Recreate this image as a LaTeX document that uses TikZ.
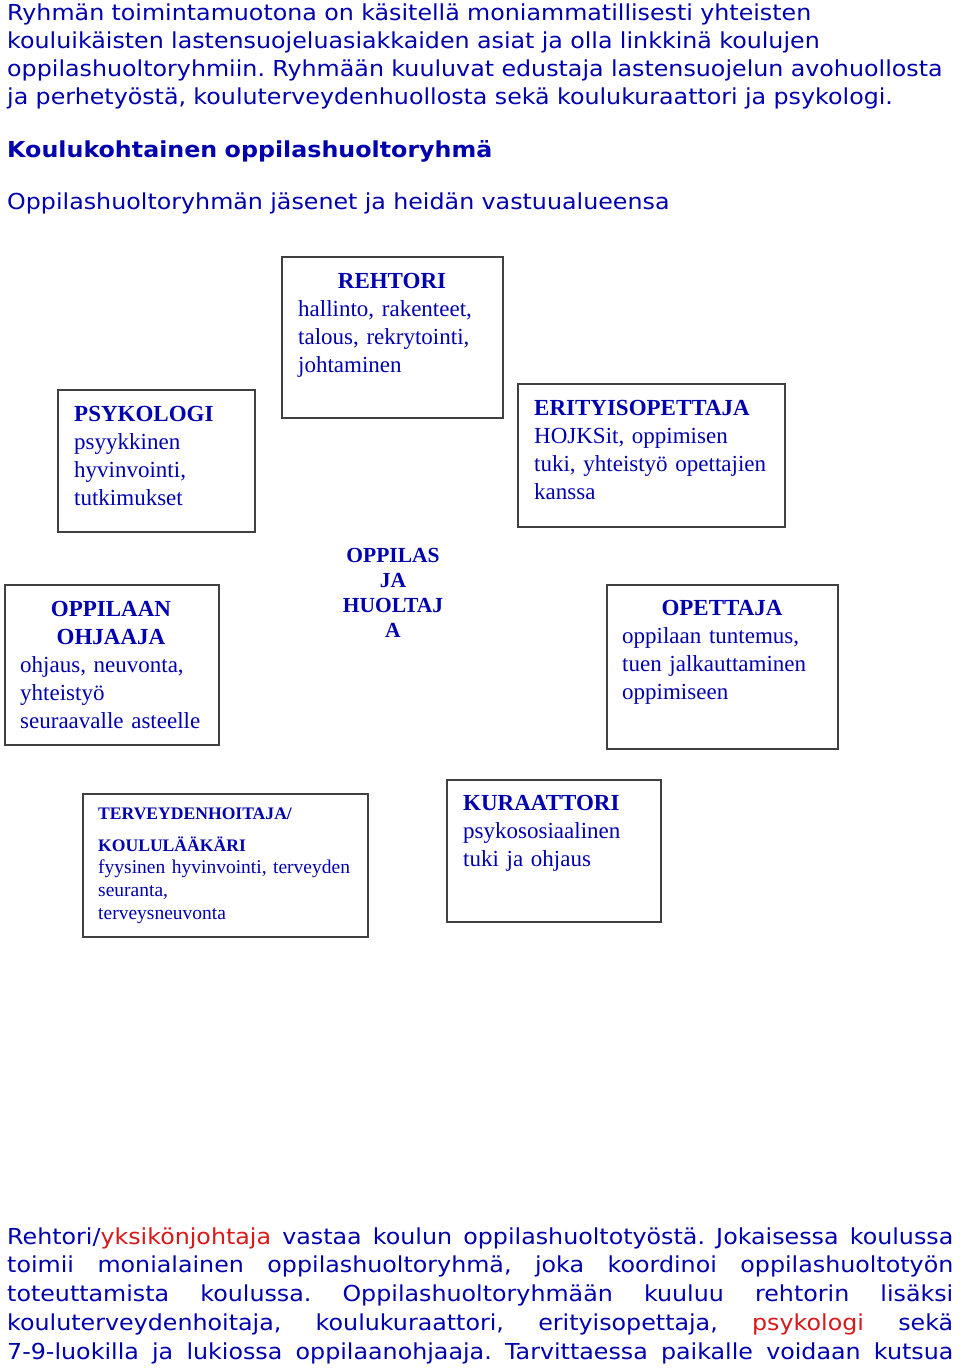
\documentclass[tikz,border=0pt]{standalone}
\usepackage{fontspec}
\setmainfont{Liberation Serif}
\newfontfamily\verd[FakeStretch=1.08]{DejaVu Sans}
\definecolor{tblue}{RGB}{0,0,175}
\definecolor{tred}{RGB}{215,25,25}
\frenchspacing
\tikzset{
  box/.style={draw=black!75, line width=1.1pt, inner sep=0pt},
  ttl/.style={anchor=base, inner sep=0pt, text=tblue, font=\bfseries\fontsize{23}{28}\selectfont},
  ttlw/.style={anchor=base west, inner sep=0pt, text=tblue, font=\bfseries\fontsize{23}{28}\selectfont},
  body/.style={anchor=base west, inner sep=0pt, text=tblue, text width=300pt, align=left, font=\fontsize{23}{28}\selectfont},
  vtxt/.style={anchor=base west, inner sep=0pt, text=tblue, text width=950pt, align=left, font=\verd\fontsize{22}{28.2}\selectfont\frenchspacing},
}
\begin{document}
\begin{tikzpicture}[x=1pt,y=-1pt]
\useasboundingbox[fill=white] (0,0) rectangle (960,1368);

% top text
\node[vtxt] (intro) at (7,20) {Ryhmän toimintamuotona on käsitellä moniammatillisesti yhteisten\\kouluikäisten lastensuojeluasiakkaiden asiat ja olla linkkinä koulujen\\oppilashuoltoryhmiin. Ryhmään kuuluvat edustaja lastensuojelun avohuollosta\\ja perhetyöstä, kouluterveydenhuollosta sekä koulukuraattori ja psykologi.};
\node[vtxt, font=\verd\bfseries\fontsize{22}{28}\selectfont] (head) at (7,157) {Koulukohtainen oppilashuoltoryhmä};
\node[vtxt] (sub) at (7,209) {Oppilashuoltoryhmän jäsenet ja heidän vastuualueensa};

% REHTORI
\draw[box] (282,257) rectangle (503,418);
\node[ttl] (rehtoriT) at (392,288) {REHTORI};
\node[body] (rehtoriB) at (298,316) {hallinto, rakenteet,\\talous, rekrytointi,\\johtaminen};

% PSYKOLOGI
\draw[box] (58,390) rectangle (255,532);
\node[ttlw] (psykT) at (74,421) {PSYKOLOGI};
\node[body] (psykB) at (74,449) {psyykkinen\\hyvinvointi,\\tutkimukset};

% ERITYISOPETTAJA
\draw[box] (518,384) rectangle (785,527);
\node[ttlw] (erityT) at (534,415) {ERITYISOPETTAJA};
\node[body] (erityB) at (534,443) {HOJKSit, oppimisen\\tuki, yhteistyö opettajien\\kanssa};

% OPPILAS JA HUOLTAJA
\node[anchor=base, inner sep=0pt, text=tblue, text width=200pt, align=center, font=\bfseries\fontsize{21.5}{25.2}\selectfont] (oppilas) at (393,562) {OPPILAS\\JA\\HUOLTAJ\\A};

% OPPILAAN OHJAAJA
\draw[box] (5,585) rectangle (219,745);
\node[ttl, text width=200pt, align=center] (ohjT) at (111,616) {OPPILAAN\\OHJAAJA};
\node[body] (ohjB) at (20,672) {ohjaus, neuvonta,\\yhteistyö\\seuraavalle asteelle};

% OPETTAJA
\draw[box] (607,585) rectangle (838,749);
\node[ttl] (opeT) at (722,615) {OPETTAJA};
\node[body] (opeB) at (622,643) {oppilaan tuntemus,\\tuen jalkauttaminen\\oppimiseen};

% TERVEYDENHOITAJA
\draw[box] (83,794) rectangle (368,937);
\node[ttlw, text width=260pt, font=\bfseries\fontsize{17.6}{32}\selectfont, align=left] (terT) at (98,819) {TERVEYDENHOITAJA/\\KOULULÄÄKÄRI};
\node[body, font=\fontsize{19.5}{23}\selectfont] (terB) at (98,873) {fyysinen hyvinvointi, terveyden\\seuranta,\\terveysneuvonta};

% KURAATTORI
\draw[box] (447,780) rectangle (661,922);
\node[ttlw] (kurT) at (463,810) {KURAATTORI};
\node[body] (kurB) at (463,838) {psykososiaalinen\\tuki ja ohjaus};

% bottom text
\node[anchor=base west, inner sep=0pt, text=tblue, text width=946pt, align=justify,
      font=\verd\fontsize{22}{28.8}\selectfont\frenchspacing] (outro) at (7,1244)
{\parfillskip=0pt Rehtori/\textcolor{tred}{yksikönjohtaja} vastaa koulun oppilashuoltotyöstä. Jokaisessa koulussa\linebreak
toimii monialainen oppilashuoltoryhmä, joka koordinoi oppilashuoltotyön\linebreak
toteuttamista koulussa. Oppilashuoltoryhmään kuuluu rehtorin lisäksi\linebreak
kouluterveydenhoitaja, koulukuraattori, erityisopettaja, \textcolor{tred}{psykologi} sekä\linebreak
7-9-luokilla ja lukiossa oppilaanohjaaja. Tarvittaessa paikalle voidaan kutsua\par};
\end{tikzpicture}
\end{document}
